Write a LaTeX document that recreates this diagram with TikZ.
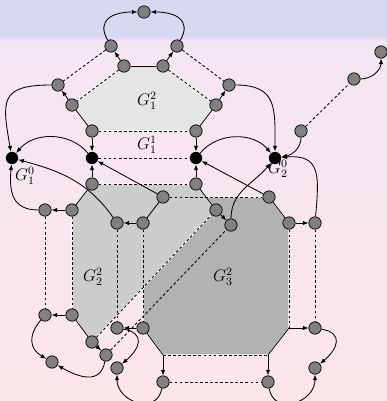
\documentclass[tikz,border=0pt]{standalone}
\usetikzlibrary{arrows.meta,backgrounds}
\definecolor{bandcol}{RGB}{216,216,240}
\definecolor{pinktop}{RGB}{244,230,242}
\definecolor{pinkbot}{RGB}{253,230,234}
\begin{document}
\begin{tikzpicture}[x=0.025cm,y=0.025cm,line cap=round,line join=round,
		>={Latex[length=4pt,width=3.2pt]},
		vtx/.style={circle,draw=black,line width=0.5pt,fill=gray,inner sep=0pt,minimum size=0.31cm},
		sink/.style={circle,fill=black,inner sep=0pt,minimum size=0.31cm},
		link/.style={line width=0.6pt},
		pair/.style={line width=0.6pt,dash pattern=on 2pt off 1.6pt},
		flow/.style={->,line width=0.6pt},
		blob/.style={draw=white,line width=1pt},
		lab/.style={font=\large,inner sep=0pt}]
				\useasboundingbox (0,0) rectangle (387,-401);
				% top copy
				\node[vtx] (t0) at (144,-12) {};
				\node[vtx] (t1) at (111,-46) {};
				\node[vtx] (t2) at (177,-46) {};
				\node[vtx] (t3) at (124,-66) {};
				\node[vtx] (t4) at (163,-66) {};
				\node[vtx] (l1) at (58,-85) {};
				\node[vtx] (l2) at (72,-105) {};
				\node[vtx] (l3) at (92,-131) {};
				\node[vtx] (r1) at (229,-85) {};
				\node[vtx] (r2) at (216,-105) {};
				\node[vtx] (r3) at (196,-131) {};
				% sinks
				\node[sink] (k1) at (12,-158) {};
				\node[sink] (k2) at (92,-158) {};
				\node[sink] (k3) at (196,-158) {};
				\node[sink] (k4) at (275,-158) {};
				\node[vtx] (m1) at (92,-184) {};
				\node[vtx] (m2) at (196,-184) {};
				% right chain
				\node[vtx] (u1) at (301,-131) {};
				\node[vtx] (u2) at (354,-79) {};
				\node[vtx] (u3) at (381,-52) {};
				% middle row
				\node[vtx] (c1) at (45,-210) {};
				\node[vtx] (c2) at (72,-210) {};
				\node[vtx] (c3) at (117,-223) {};
				\node[vtx] (c4) at (143,-223) {};
				\node[vtx] (c5) at (163,-197) {};
				\node[vtx] (c6) at (216,-210) {};
				\node[vtx] (c7) at (231,-225) {};
				\node[vtx] (c8) at (269,-197) {};
				\node[vtx] (c9) at (289,-223) {};
				\node[vtx] (c10) at (315,-223) {};
				% bottom row
				\node[vtx] (d1) at (45,-315) {};
				\node[vtx] (d2) at (72,-315) {};
				\node[vtx] (d3) at (92,-342) {};
				\node[vtx] (d4) at (106,-355) {};
				\node[vtx] (d5) at (52,-362) {};
				\node[vtx] (e1) at (117,-328) {};
				\node[vtx] (e2) at (143,-328) {};
				\node[vtx] (e3) at (117,-368) {};
				\node[vtx] (f1) at (163,-382) {};
				\node[vtx] (f2) at (268,-382) {};
				\node[vtx] (g2) at (315,-328) {};
				\node[vtx] (g3) at (315,-368) {};
				\coordinate (h1) at (289,-328);
				\coordinate (h2) at (268,-355);
				\coordinate (h3) at (163,-355);
				% labels
				\node[lab] (lab12) at (147,-101) {$G_1^2$};
				\node[lab] (lab11) at (147,-145) {$G_1^1$};
				\node[lab] (lab10) at (25,-176) {$G_1^0$};
				\node[lab] (lab20) at (278,-169) {$G_2^0$};
				\node[lab] (lab22) at (93,-277) {$G_2^2$};
				\node[lab] (lab32) at (223,-277) {$G_3^2$};
				\begin{pgfonlayer}{background}
				\fill[bandcol] (0,0) rectangle (387,-36);
				\shade[top color=bandcol,bottom color=pinktop] (0,-36) rectangle (387,-41);
				\shade[top color=pinktop,bottom color=pinkbot] (0,-41) rectangle (387,-401);
				% components
				\filldraw[blob,fill=black!30] (c5.center) -- (c8.center) -- (c9.center) -- (h1) -- (h2) -- (h3) -- (e2.center) -- (c4.center) -- cycle;
				\filldraw[blob,fill=black!20] (m1.center) -- (m2.center) -- (c6.center) -- (d3.center) -- (d2.center) -- (c2.center) -- cycle;
				\filldraw[blob,fill=black!10] (t3.center) -- (t4.center) -- (r2.center) -- (r3.center) -- (l3.center) -- (l2.center) -- cycle;
				% plain edges
				\draw[link] (t3) -- (t4);
				\draw[link] (l2) -- (l3);
				\draw[link] (r2) -- (r3);
				\draw[link] (m1) -- (c2);
				\draw[link] (m2) -- (c6);
				\draw[link] (c5) -- (c4);
				\draw[link] (c8) -- (c9);
				\draw[link] (d2) -- (d3);
				\draw[link] (e2) -- (h3);
				\draw[link] (h2) -- (h1);
				% dashed pairs
				\draw[pair] (t1) -- (l1);
				\draw[pair] (t3) -- (l2);
				\draw[pair] (t2) -- (r1);
				\draw[pair] (t4) -- (r2);
				\draw[pair] (l3) -- (r3);
				\draw[pair] (k2) -- (k3);
				\draw[pair] (m1) -- (m2);
				\draw[pair] (c5) -- (c8);
				\draw[pair] (c1) -- (d1);
				\draw[pair] (c2) -- (d2);
				\draw[pair] (c3) -- (e1);
				\draw[pair] (c4) -- (e2);
				\draw[pair] (c9) -- (h1);
				\draw[pair] (c10) -- (g2);
				\draw[pair] (h3) -- (h2);
				\draw[pair] (f1) -- (f2);
				\draw[pair] (d3) -- (c6);
				\draw[pair] (d4) -- (c7);
				\draw[pair] (u1) -- (u2);
				% straight arrows
				\draw[flow] (t3) -- (t1);
				\draw[flow] (t4) -- (t2);
				\draw[flow] (l2) -- (l1);
				\draw[flow] (r2) -- (r1);
				\draw[flow] (l3) -- (k2);
				\draw[flow] (m1) -- (k2);
				\draw[flow] (r3) -- (k3);
				\draw[flow] (m2) -- (k3);
				\draw[flow] (c5) -- (k2);
				\draw[flow] (c8) -- (k3);
				\draw[flow] (c2) -- (c1);
				\draw[flow] (c4) -- (c3);
				\draw[flow] (c6) -- (c7);
				\draw[flow] (c9) -- (c10);
				\draw[flow] (d2) -- (d1);
				\draw[flow] (d3) -- (d4);
				\draw[flow] (e2) -- (e1);
				\draw[flow] (h3) -- (f1);
				\draw[flow] (h2) -- (f2);
				\draw[flow] (h1) -- (g2);
				% curved arrows
				\draw[flow] (t1) to[out=120,in=180,looseness=1.5] (t0);
				\draw[flow] (t2) to[out=60,in=0,looseness=1.5] (t0);
				\draw[flow] (l1) to[out=180,in=100,looseness=1.7] (k1);
				\draw[flow] (k2) to[out=130,in=50] (k1);
				\draw[flow] (k3) to[out=50,in=130] (k4);
				\draw[flow] (r1) to[out=0,in=90,looseness=1.4] (k4);
				\draw[flow] (u1) to[out=-90,in=10] (k4);
				\draw[flow] (u2) to[out=0,in=-90] (u3);
				\draw[flow] (c1) to[out=180,in=-95,looseness=1.3] (k1);
				\draw[flow] (c3) to[out=125,in=-15] (k1);
				\draw[flow] (c7) to[out=90,in=-130] (k4);
				\draw[flow] (c10) to[out=85,in=5,looseness=1.5] (k4);
				\draw[flow] (d1) to[out=-130,in=150,looseness=1.3] (d5);
				\draw[flow] (d4) to[out=-100,in=-30,looseness=1.3] (d5);
				\draw[flow] (e1) to[out=-10,in=40,looseness=1.7] (e3);
				\draw[flow] (f1) to[out=-100,in=-90,looseness=1.5] (e3);
				\draw[flow] (g2) to[out=-10,in=40,looseness=1.7] (g3);
				\draw[flow] (f2) to[out=-80,in=-90,looseness=1.5] (g3);
				\end{pgfonlayer}
\end{tikzpicture}
\end{document}
